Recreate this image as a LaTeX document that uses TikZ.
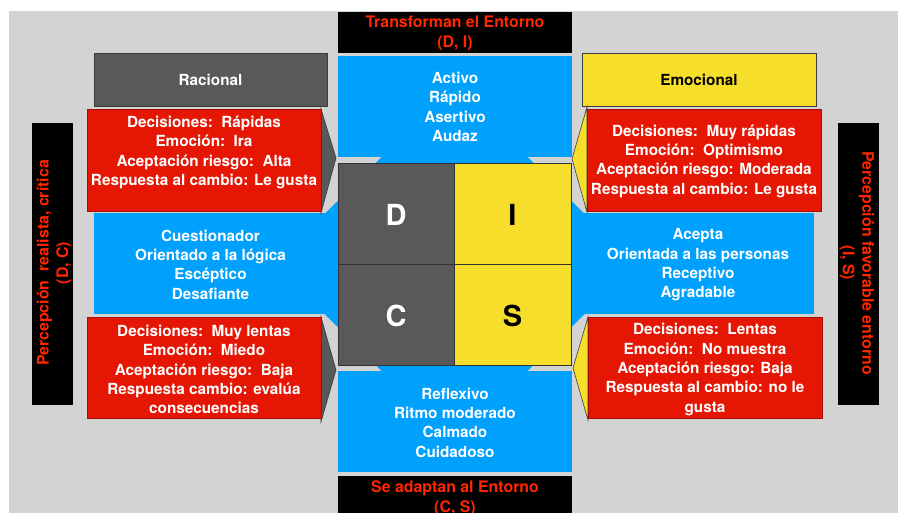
\documentclass[tikz,border=0pt]{standalone}
\usepackage{fontspec}
\setmainfont{TeX Gyre Heros}
\definecolor{bggray}{RGB}{211,211,211}
\definecolor{discblue}{RGB}{0,160,253}
\definecolor{discred}{RGB}{229,22,4}
\definecolor{dkgray}{RGB}{89,89,89}
\definecolor{discyellow}{RGB}{247,222,42}
\definecolor{redtext}{RGB}{255,38,0}
\definecolor{edge}{RGB}{60,60,60}
\tikzset{
  txt/.style={align=center, inner sep=0pt, font=\bfseries\fontsize{15.3}{19.3}\selectfont},
  wtxt/.style={txt, text=white},
  btxt/.style={txt, text=black},
  rtxt/.style={align=center, inner sep=0pt, text=redtext, font=\bfseries\fontsize{15.9}{19.6}\selectfont},
  big/.style={inner sep=0pt, font=\bfseries\fontsize{29}{32}\selectfont},
  edged/.style={draw=edge, line width=0.6pt},
}
\begin{document}
\begin{tikzpicture}[x=1pt,y=-1pt]
\useasboundingbox (0,0) rectangle (898,513);
\fill[white] (0,0) rectangle (898,513);
\fill[bggray] (9,11) rectangle (898,513);
% blue backdrop diamond and arms
\fill[discblue] (454.5,84) -- (634.5,264) -- (454.5,444) -- (274.5,264) -- cycle;
\fill[discblue] (338,56) rectangle (572,157);
\fill[discblue] (94,213) rectangle (338,314);
\fill[discblue] (572,213) rectangle (814,314);
\fill[discblue] (338,371) rectangle (572,472);
% black header/footer
\fill[black] (338,12) rectangle (572,53);
\fill[black] (338,476) rectangle (572,513);
% vertical black bars
\fill[black] (32,123) rectangle (73,405);
\fill[black] (838,123) rectangle (879,405);
% Racional / Emocional
\filldraw[fill=dkgray, edged] (94,53) rectangle (327,106);
\filldraw[fill=discyellow, edged] (582,53) rectangle (816,106);
% pointers
\filldraw[fill=dkgray, edged] (321,109) -- (336,158) -- (321,213) -- cycle;
\filldraw[fill=dkgray, edged] (321,317) -- (336,370) -- (321,422) -- cycle;
\filldraw[fill=discyellow, edged] (587,107) -- (572,159) -- (587,212) -- cycle;
\filldraw[fill=discyellow, edged] (588,317) -- (573,368) -- (588,420) -- cycle;
% red boxes
\filldraw[fill=discred, draw=discred!70!black, line width=0.5pt] (87,109) rectangle (321,211);
\filldraw[fill=discred, draw=discred!70!black, line width=0.5pt] (87,317) rectangle (321,418);
\filldraw[fill=discred, draw=discred!70!black, line width=0.5pt] (587,109) rectangle (821,211);
\filldraw[fill=discred, draw=discred!70!black, line width=0.5pt] (588,317) rectangle (822,418);
% DISC squares
\filldraw[fill=dkgray, draw=black!80, line width=0.7pt] (338,163) rectangle (454,264);
\filldraw[fill=discyellow, draw=black!80, line width=0.7pt] (454,163) rectangle (571,264);
\filldraw[fill=dkgray, draw=black!80, line width=0.7pt] (338,264) rectangle (454,365);
\filldraw[fill=discyellow, draw=black!80, line width=0.7pt] (454,264) rectangle (571,365);
\node[big, text=white] (D) at (396,215) {D};
\node[big, text=black] (I) at (512.5,215) {I};
\node[big, text=white] (C) at (396,316) {C};
\node[big, text=black] (S) at (512.5,316) {S};
% texts
\node[rtxt] (top) at (455,33.5) {Transforman el Entorno\\(D, I)};
\node[rtxt] (bottom) at (455,498) {Se adaptan al Entorno\\(C, S)};
\node[wtxt] (rac) at (210.5,80) {Racional};
\node[btxt] (emo) at (699,80) {Emocional};
\node[wtxt] (tb) at (455,107) {Activo\\Rápido\\Asertivo\\Audaz};
\node[wtxt] (lb) at (210.5,264.5) {Cuestionador\\Orientado a la lógica\\Escéptico\\Desafiante};
\node[wtxt] (rb) at (698,265) {Acepta\\Orientada a las personas\\Receptivo\\Agradable};
\node[wtxt] (bb) at (455,422.5) {Reflexivo\\Ritmo moderado\\Calmado\\Cuidadoso};
\node[wtxt] (r1) at (204,152.5) {Decisiones:\ \ Rápidas\\Emoción:\ \ Ira\\Aceptación riesgo:\ \ Alta\\Respuesta al cambio: Le gusta};
\node[wtxt] (r2) at (204,369.5) {Decisiones:\ \ Muy lentas\\Emoción:\ \ Miedo\\Aceptación riesgo:\ \ Baja\\Respuesta cambio: evalúa\\consecuencias};
\node[wtxt] (r3) at (704,161) {Decisiones:\ \ Muy rápidas\\Emoción:\ \ Optimismo\\Aceptación riesgo: Moderada\\Respuesta al cambio: Le gusta};
\node[wtxt] (r4) at (705,369.5) {Decisiones:\ \ Lentas\\Emoción:\ \ No muestra\\Aceptación riesgo: Baja\\Respuesta al cambio: no le\\gusta};
\node[rtxt, rotate=90] (lv) at (54,263) {Percepción\ \ realista, crítica\\(D, C)};
\node[rtxt, rotate=-90] (rv) at (857,263) {Percepción favorable entorno\\(I, S)};
\end{tikzpicture}
\end{document}
